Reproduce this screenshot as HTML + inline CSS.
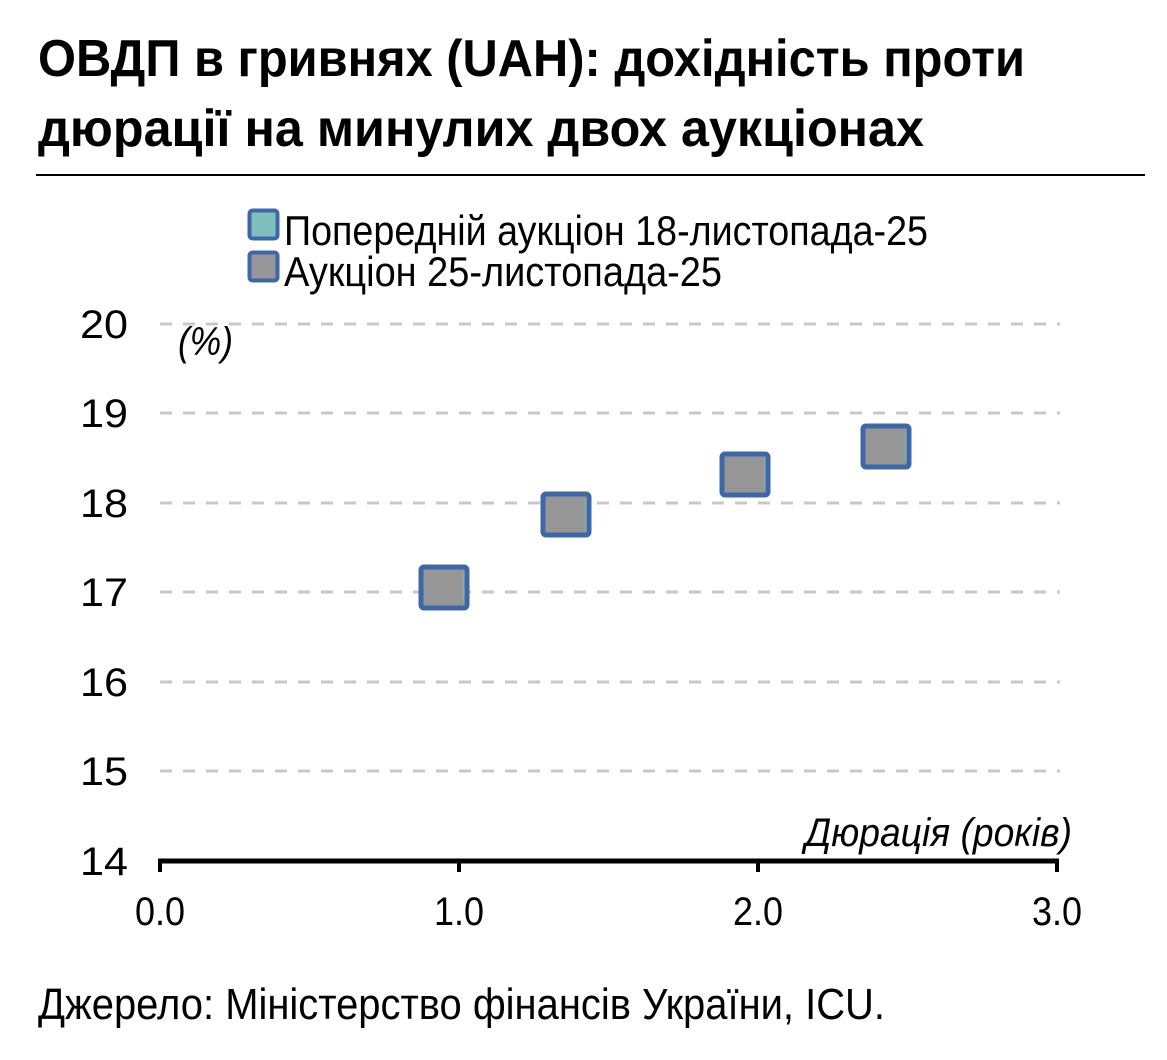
<!DOCTYPE html>
<html><head><meta charset="utf-8"><style>
html,body{margin:0;padding:0;background:#fff;}
svg{display:block;font-family:"Liberation Sans",sans-serif;}
</style></head><body>
<svg width="1167" height="1060" viewBox="0 0 1167 1060" xmlns="http://www.w3.org/2000/svg">
<text x="38" y="76" font-size="52" font-weight="bold" textLength="987" lengthAdjust="spacingAndGlyphs">ОВДП в гривнях (UAH): дохідність проти</text>
<text x="38" y="146" font-size="52" font-weight="bold" textLength="886" lengthAdjust="spacingAndGlyphs">дюрації на минулих двох аукціонах</text>
<line x1="36" y1="175" x2="1145" y2="175" stroke="#000" stroke-width="2"/>
<rect x="249.5" y="210.5" width="28" height="28" rx="3" fill="#7fbfbc" stroke="#3f67a8" stroke-width="4"/>
<rect x="249.5" y="252.5" width="28" height="28" rx="3" fill="#969696" stroke="#3f67a8" stroke-width="4"/>
<text x="284" y="245" font-size="42" textLength="644" lengthAdjust="spacingAndGlyphs">Попередній аукціон 18-листопада-25</text>
<text x="284" y="286" font-size="42" textLength="438" lengthAdjust="spacingAndGlyphs">Аукціон 25-листопада-25</text>
<g stroke="#c8c8c8" stroke-width="3" stroke-dasharray="12,11">
<line x1="160" y1="324" x2="1060" y2="324"/>
<line x1="160" y1="413" x2="1060" y2="413"/>
<line x1="160" y1="503" x2="1060" y2="503"/>
<line x1="160" y1="592" x2="1060" y2="592"/>
<line x1="160" y1="682" x2="1060" y2="682"/>
<line x1="160" y1="771" x2="1060" y2="771"/>
</g>
<g font-size="40" text-anchor="end">
<text x="128" y="338" textLength="48" lengthAdjust="spacingAndGlyphs">20</text>
<text x="128" y="427" textLength="48" lengthAdjust="spacingAndGlyphs">19</text>
<text x="128" y="517" textLength="48" lengthAdjust="spacingAndGlyphs">18</text>
<text x="128" y="606" textLength="48" lengthAdjust="spacingAndGlyphs">17</text>
<text x="128" y="696" textLength="48" lengthAdjust="spacingAndGlyphs">16</text>
<text x="128" y="785" textLength="48" lengthAdjust="spacingAndGlyphs">15</text>
<text x="128" y="875" textLength="48" lengthAdjust="spacingAndGlyphs">14</text>
</g>
<text x="178" y="355" font-size="40" font-style="italic" textLength="55" lengthAdjust="spacingAndGlyphs">(%)</text>
<text x="805" y="846" font-size="40" font-style="italic" textLength="267" lengthAdjust="spacingAndGlyphs">Дюрація (років)</text>
<line x1="158" y1="861" x2="1059" y2="861" stroke="#000" stroke-width="5"/>
<g stroke="#000" stroke-width="4">
<line x1="160" y1="861" x2="160" y2="872"/>
<line x1="459" y1="861" x2="459" y2="872"/>
<line x1="758" y1="861" x2="758" y2="872"/>
<line x1="1057" y1="861" x2="1057" y2="872"/>
</g>
<g font-size="40" text-anchor="middle">
<text x="160" y="925" textLength="50" lengthAdjust="spacingAndGlyphs">0.0</text>
<text x="459" y="925" textLength="50" lengthAdjust="spacingAndGlyphs">1.0</text>
<text x="758" y="925" textLength="50" lengthAdjust="spacingAndGlyphs">2.0</text>
<text x="1057" y="925" textLength="50" lengthAdjust="spacingAndGlyphs">3.0</text>
</g>
<g>
<rect x="421" y="567" width="46" height="41" rx="3" fill="#969696" stroke="#3f67a8" stroke-width="5"/>
<line x1="464" y1="571" x2="464" y2="604" stroke="#7fbfbc" stroke-width="1"/>
<rect x="543" y="494" width="46" height="41" rx="3" fill="#969696" stroke="#3f67a8" stroke-width="5"/>
<line x1="586" y1="498" x2="586" y2="531" stroke="#7fbfbc" stroke-width="1"/>
<rect x="722" y="454" width="46" height="41" rx="3" fill="#969696" stroke="#3f67a8" stroke-width="5"/>
<line x1="765" y1="458" x2="765" y2="491" stroke="#7fbfbc" stroke-width="1"/>
<rect x="863" y="426" width="46" height="41" rx="3" fill="#969696" stroke="#3f67a8" stroke-width="5"/>
<line x1="906" y1="430" x2="906" y2="463" stroke="#7fbfbc" stroke-width="1"/>
</g>
<text x="38" y="1019" font-size="44" textLength="847" lengthAdjust="spacingAndGlyphs">Джерело: Міністерство фінансів України, ICU.</text>
</svg>
</body></html>
